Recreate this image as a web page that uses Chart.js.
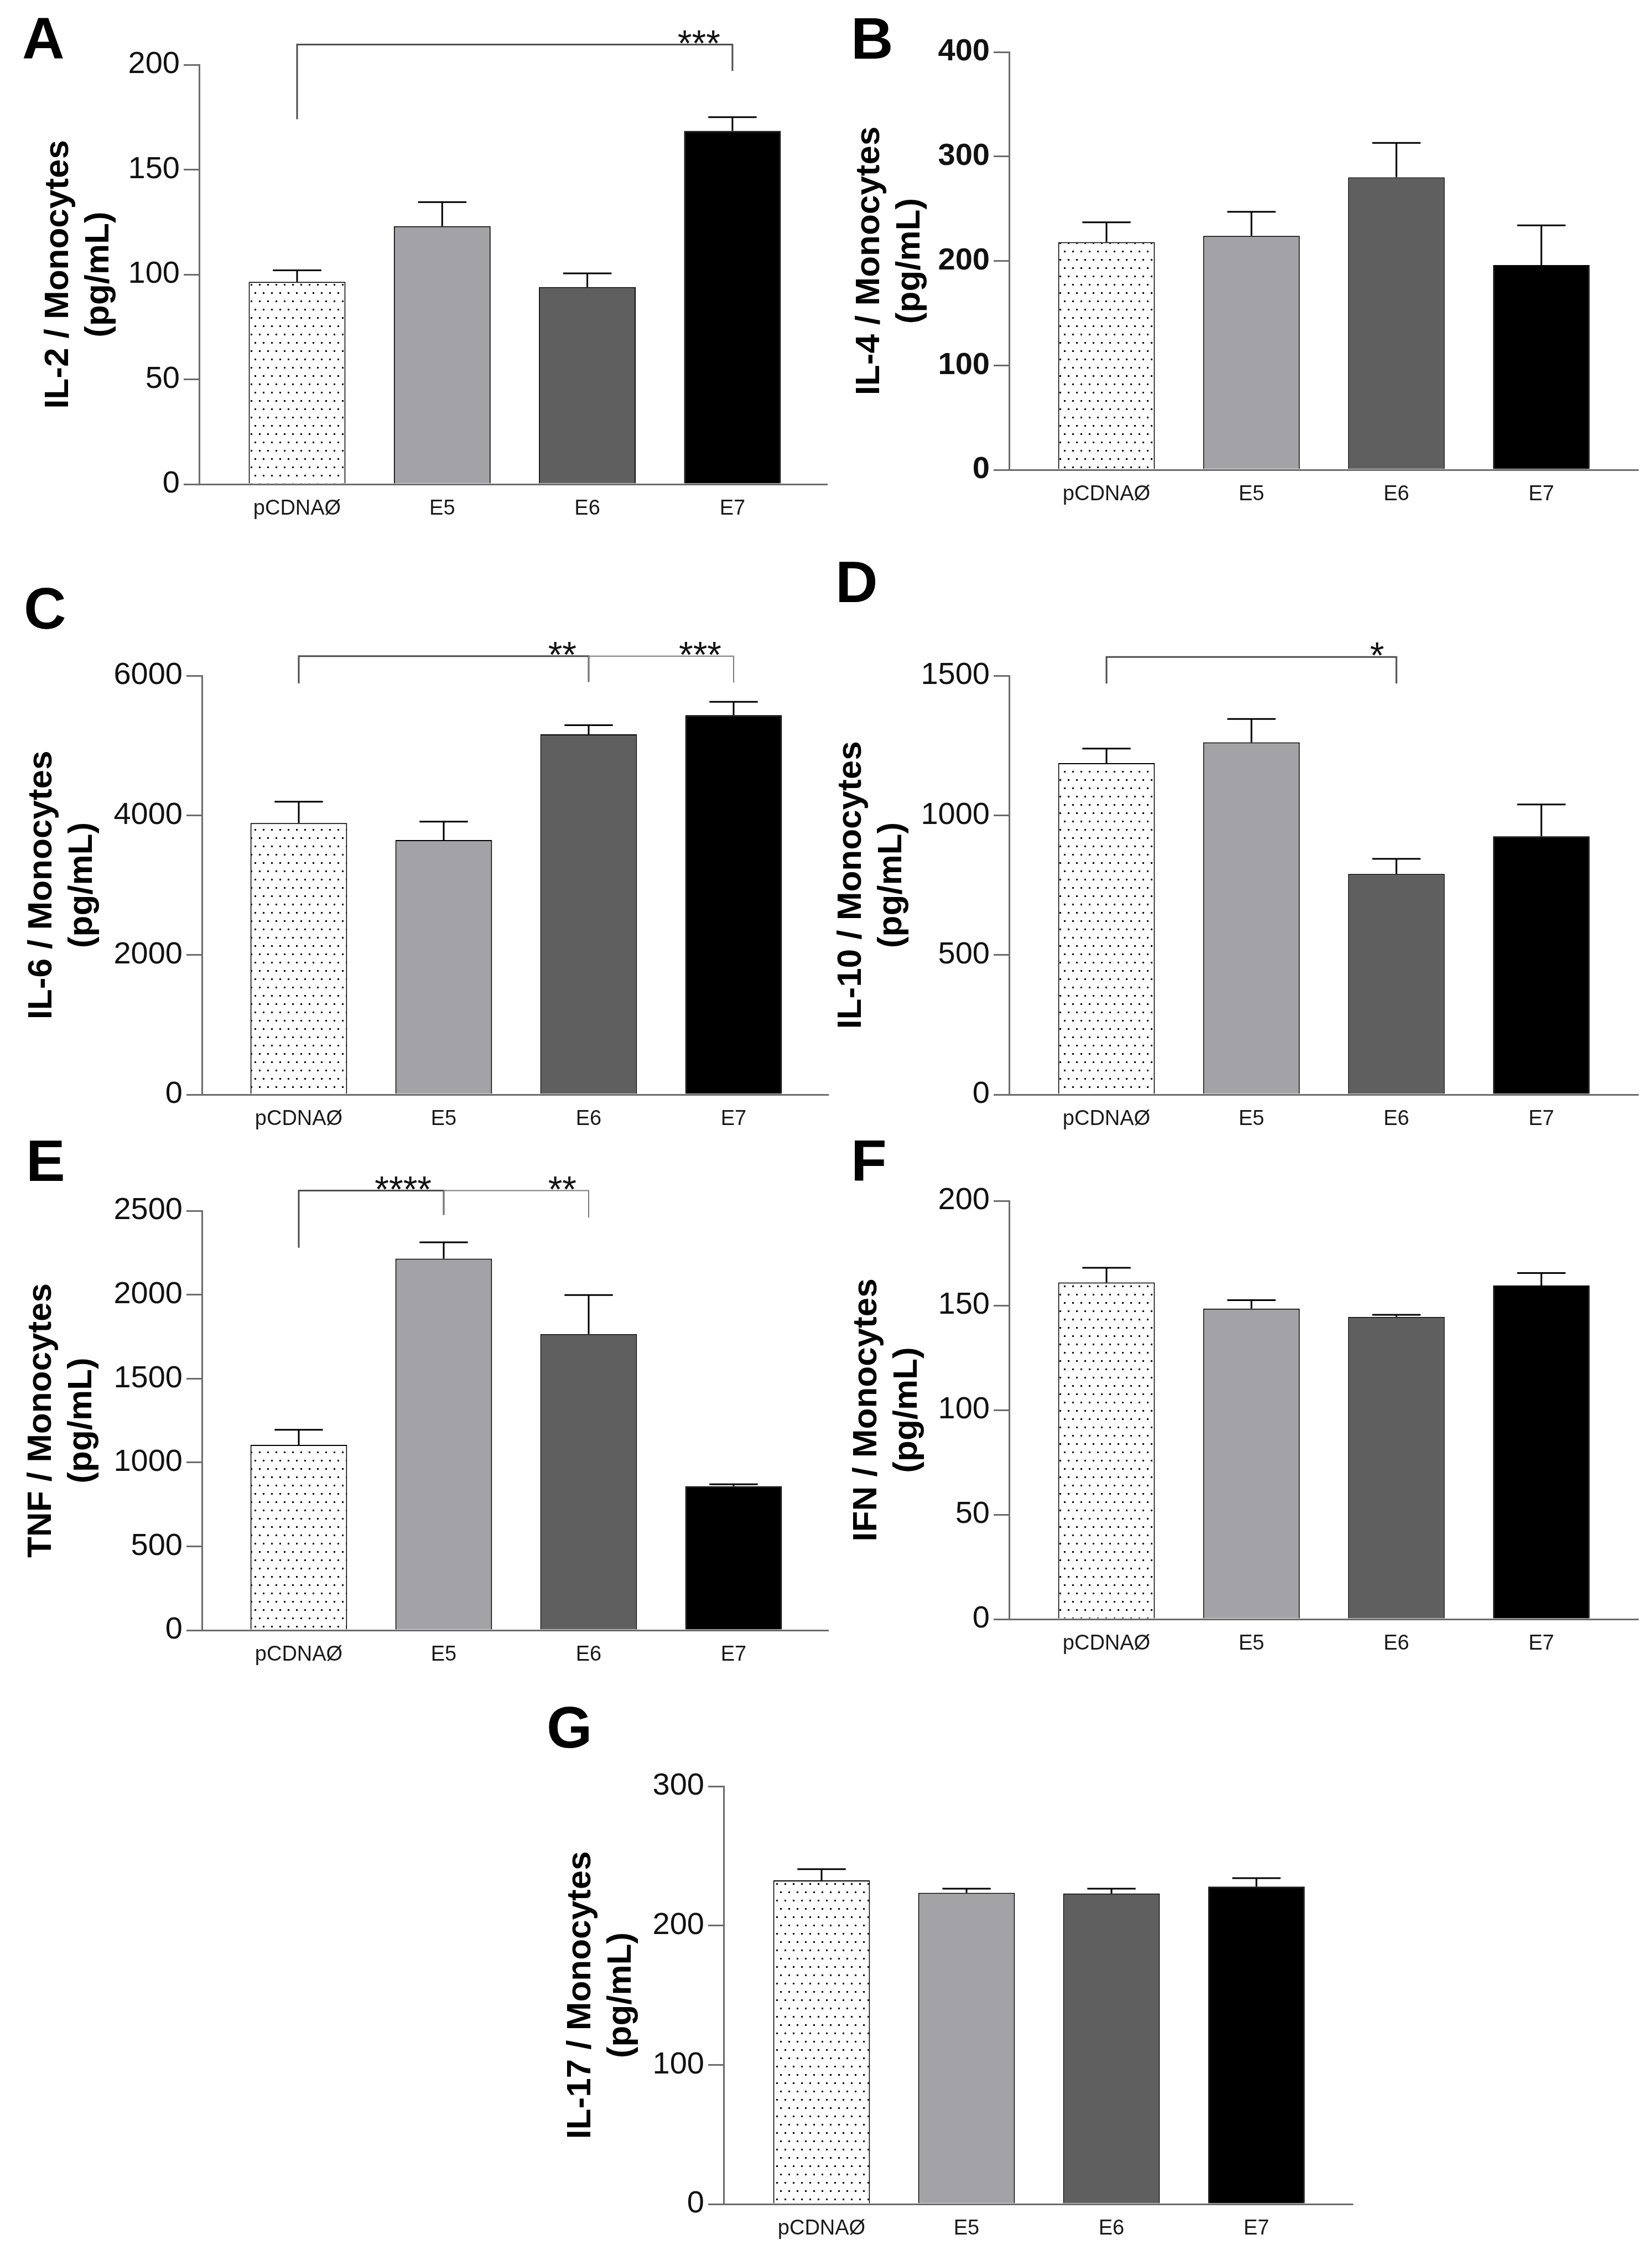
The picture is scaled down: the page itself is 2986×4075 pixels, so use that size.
<!DOCTYPE html>
<html>
<head>
<meta charset="utf-8">
<title>Cytokines / Monocytes</title>
<script src="https://cdn.jsdelivr.net/npm/chart.js@4.4.1/dist/chart.umd.min.js"></script>
<style>
  html, body { margin: 0; padding: 0; background: #fff; }
  #page { position: relative; width: 2986px; height: 4075px; overflow: hidden; background: #fff; }
  .panel { position: absolute; }
  .letter { position: absolute; font: bold 106px "Liberation Sans", Arial, sans-serif; line-height: 1; color: #000; }
</style>
</head>
<body>
<div id="page"></div>
<script>
// groups on the x axis
const categories = ['pCDNAØ', 'E5', 'E6', 'E7'];

// mean and SEM (upper error bar) per cytokine, pg/mL
const il2Mean = [96.5, 123, 94, 168.5];
const il2Sem = [5.5, 11.5, 6.5, 6.5];
const il4Mean = [218, 224, 280, 196];
const il4Sem = [19, 23, 33, 38];
const il6Mean = [3890, 3645, 5160, 5435];
const il6Sem = [305, 265, 130, 190];
const il10Mean = [1187, 1261, 790, 925];
const il10Sem = [52, 84, 54, 114];
const tnfMean = [1105, 2215, 1765, 858];
const tnfSem = [90, 97, 233, 12];
const ifnMean = [161, 148.5, 144.5, 159.5];
const ifnSem = [7, 4, 1, 6];
const il17Mean = [232.5, 223.5, 223, 228];
const il17Sem = [8, 3, 3.5, 6];

// y tick labels
const il2Ticks = [0, 50, 100, 150, 200];
const il4Ticks = [0, 100, 200, 300, 400];
const il6Ticks = [0, 2000, 4000, 6000];
const il10Ticks = [0, 500, 1000, 1500];
const tnfTicks = [0, 500, 1000, 1500, 2000, 2500];
const ifnTicks = [0, 50, 100, 150, 200];
const il17Ticks = [0, 100, 200, 300];

// significance brackets: from/to group index, bracket level and the ends of the drops
const il2Sig = [{ from: 0, to: 3, level: 209.6, drops: [174, 197], label: '***' }];
const il6Sig = [
  { from: 0, to: 2, level: 6280, drops: [5890, 5910], label: '**' },
  { from: 2, to: 3, level: 6280, drops: [5910, 5900], label: '***' }
];
const il10Sig = [{ from: 0, to: 2, level: 1567, drops: [1472, 1472], label: '*' }];
const tnfSig = [
  { from: 0, to: 1, level: 2620, drops: [2280, 2475], label: '****' },
  { from: 1, to: 2, level: 2620, drops: [2475, 2460], label: '**' }
];

const FONT = '"Liberation Sans", Arial, Helvetica, sans-serif';
const AXIS = '#6b6b6b';

// where each panel sits on the page
const panels = [
  { letter: 'A', lx: 40, ly: 30, L: 0, T: 0, W: 1500, H: 1000, axisX: 360, top: 117, bottom: 875, right: 1495, c0: 537, sp: 262.3, titleX: 105.5,
    title: ['IL-2 / Monocytes', '(pg/mL)'], mean: il2Mean, sem: il2Sem, ticks: il2Ticks, sig: il2Sig, bold: false },
  { letter: 'B', lx: 1538, ly: 30, L: 1500, T: 0, W: 1486, H: 1000, axisX: 1824, top: 94, bottom: 849, right: 2961, c0: 2000, sp: 262, titleX: 1572,
    title: ['IL-4 / Monocytes', '(pg/mL)'], mean: il4Mean, sem: il4Sem, ticks: il4Ticks, sig: [], bold: true },
  { letter: 'C', lx: 43, ly: 1060, L: 0, T: 1000, W: 1500, H: 1050, axisX: 365, top: 1221, bottom: 1978, right: 1497, c0: 540, sp: 262, titleX: 75.5,
    title: ['IL-6 / Monocytes', '(pg/mL)'], mean: il6Mean, sem: il6Sem, ticks: il6Ticks, sig: il6Sig, bold: false },
  { letter: 'D', lx: 1510, ly: 1012, L: 1500, T: 1000, W: 1486, H: 1050, axisX: 1824, top: 1221, bottom: 1978, right: 2961, c0: 2000, sp: 262, titleX: 1539,
    title: ['IL-10 / Monocytes', '(pg/mL)'], mean: il10Mean, sem: il10Sem, ticks: il10Ticks, sig: il10Sig, bold: false },
  { letter: 'E', lx: 47, ly: 2058, L: 0, T: 2050, W: 1500, H: 980, axisX: 365, top: 2188, bottom: 2946, right: 1497, c0: 540, sp: 262, titleX: 75,
    title: ['TNF / Monocytes', '(pg/mL)'], mean: tnfMean, sem: tnfSem, ticks: tnfTicks, sig: tnfSig, bold: false },
  { letter: 'F', lx: 1538, ly: 2058, L: 1500, T: 2050, W: 1486, H: 980, axisX: 1824, top: 2170, bottom: 2926, right: 2961, c0: 2000, sp: 262, titleX: 1567,
    title: ['IFN / Monocytes', '(pg/mL)'], mean: ifnMean, sem: ifnSem, ticks: ifnTicks, sig: [], bold: false },
  { letter: 'G', lx: 988, ly: 3082, L: 950, T: 3040, W: 1500, H: 1035, axisX: 1308, top: 3228, bottom: 3983, right: 2445, c0: 1485, sp: 262, titleX: 1050,
    title: ['IL-17 / Monocytes', '(pg/mL)'], mean: il17Mean, sem: il17Sem, ticks: il17Ticks, sig: [], bold: false }
];

const page = document.getElementById('page');

// dotted fill for the empty-vector bar
function dotPattern(ctx) {
  const tile = document.createElement('canvas');
  tile.width = 15;
  tile.height = 30;
  const g = tile.getContext('2d');
  g.fillStyle = '#fff';
  g.fillRect(0, 0, 15, 30);
  g.fillStyle = '#000';
  g.fillRect(3, 3, 3, 3);
  g.fillRect(10, 18, 3, 3);
  return ctx.createPattern(tile, 'repeat');
}

function errorBars(p) {
  return {
    id: 'errorBars',
    afterDatasetsDraw(chart) {
      const ctx = chart.ctx;
      const y = chart.scales.y;
      const bars = chart.getDatasetMeta(0).data;
      ctx.save();
      ctx.strokeStyle = '#000';
      ctx.lineWidth = 3;
      bars.forEach((bar, i) => {
        const yTop = y.getPixelForValue(p.mean[i] + p.sem[i]);
        const half = bar.width / 4;
        ctx.beginPath();
        ctx.moveTo(bar.x, bar.y);
        ctx.lineTo(bar.x, yTop);
        ctx.moveTo(bar.x - half, yTop);
        ctx.lineTo(bar.x + half, yTop);
        ctx.stroke();
      });
      ctx.restore();
    }
  };
}

function brackets(p) {
  return {
    id: 'sigBrackets',
    afterDraw(chart) {
      const ctx = chart.ctx;
      const x = chart.scales.x;
      const y = chart.scales.y;
      ctx.save();
      p.sig.forEach((b, k) => {
        const x1 = x.getPixelForValue(b.from);
        const x2 = x.getPixelForValue(b.to);
        const yl = y.getPixelForValue(b.level);
        ctx.strokeStyle = k === 0 ? '#4d4d4d' : '#7a7a7a';
        ctx.lineWidth = k === 0 ? 3 : 2;
        ctx.beginPath();
        ctx.moveTo(x1, y.getPixelForValue(b.drops[0]));
        ctx.lineTo(x1, yl);
        ctx.lineTo(x2, yl);
        ctx.lineTo(x2, y.getPixelForValue(b.drops[1]));
        ctx.stroke();
        ctx.fillStyle = '#111';
        ctx.font = '66px ' + FONT;
        ctx.textAlign = 'right';
        ctx.textBaseline = 'alphabetic';
        ctx.fillText(b.label, x2 - 22, yl + 20);
      });
      ctx.restore();
    }
  };
}

function makePanel(p) {
  const letter = document.createElement('div');
  letter.className = 'letter';
  letter.textContent = p.letter;
  letter.style.left = p.lx + 'px';
  letter.style.top = (p.ly - 14) + 'px';
  page.appendChild(letter);

  const box = document.createElement('div');
  box.className = 'panel';
  box.style.left = p.L + 'px';
  box.style.top = p.T + 'px';
  box.style.width = p.W + 'px';
  box.style.height = p.H + 'px';
  const canvas = document.createElement('canvas');
  box.appendChild(canvas);
  page.appendChild(box);

  const last = categories.length - 1;
  const xMin = -(p.c0 - p.axisX) / p.sp;
  const xMax = last + (p.right - (p.c0 + last * p.sp)) / p.sp;

  new Chart(canvas, {
    type: 'bar',
    data: {
      datasets: [{
        data: p.mean.map((v, i) => ({ x: i, y: v })),
        backgroundColor: [dotPattern(canvas.getContext('2d')), '#a3a2a7', '#5f5f5f', '#000000'],
        borderColor: '#000',
        borderWidth: 2,
        categoryPercentage: 1,
        barPercentage: 0.667
      }]
    },
    options: {
      responsive: true,
      maintainAspectRatio: false,
      animation: false,
      devicePixelRatio: 1,
      layout: { padding: { left: 0, top: p.top - p.T, right: p.L + p.W - p.right, bottom: 0 } },
      plugins: { legend: { display: false }, tooltip: { enabled: false } },
      scales: {
        x: {
          type: 'linear',
          min: xMin,
          max: xMax,
          offset: false,
          afterFit: s => { s.height = p.T + p.H - p.bottom; },
          afterBuildTicks: s => { s.ticks = categories.map((c, i) => ({ value: i })); },
          grid: { display: false, drawTicks: false, offset: false },
          border: { display: true, color: AXIS, width: 3 },
          ticks: {
            callback: v => categories[v],
            autoSkip: false,
            maxRotation: 0,
            padding: 22,
            color: '#1a1a1a',
            font: { family: FONT, size: 38 }
          }
        },
        y: {
          min: p.ticks[0],
          max: p.ticks[p.ticks.length - 1],
          afterFit: s => { s.width = p.axisX - p.L; },
          afterBuildTicks: s => { s.ticks = p.ticks.map(v => ({ value: v })); },
          grid: { drawOnChartArea: false, drawTicks: true, tickLength: 28, color: AXIS, lineWidth: 3 },
          border: { display: true, color: AXIS, width: 3 },
          ticks: {
            callback: v => String(v),
            padding: 7,
            color: '#111',
            font: { family: FONT, size: 56, weight: p.bold ? 'bold' : 'normal' }
          },
          title: {
            display: true,
            text: p.title,
            color: '#000',
            font: { family: FONT, size: 62, weight: 'bold', lineHeight: 1.18 },
            padding: { top: p.titleX - p.L - 36.6, bottom: 0 }
          }
        }
      }
    },
    plugins: [errorBars(p), brackets(p)]
  });
}

panels.forEach(makePanel);
</script>
</body>
</html>
